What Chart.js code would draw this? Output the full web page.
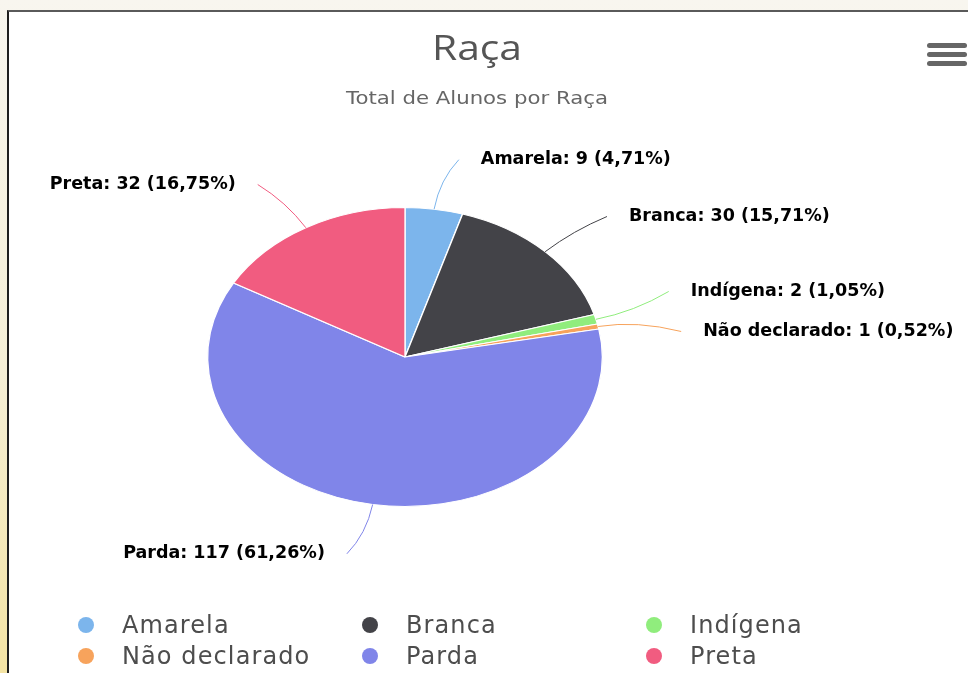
<!DOCTYPE html>
<html lang="pt-BR">
<head>
<meta charset="utf-8">
<title>Raça</title>
<script src="https://cdn.jsdelivr.net/npm/chart.js@4.4.1/dist/chart.umd.min.js"></script>
<style>
    html, body { margin: 0; padding: 0; }
    body {
        width: 968px; height: 673px; overflow: hidden; position: relative;
        background: linear-gradient(180deg, #f8f6ef 0%, #f5efd6 55%, #f4e4a4 100%);
        font-family: 'DejaVu Sans', sans-serif;
    }
    #caixa {
        position: absolute; left: 7px; top: 10px; width: 990px; height: 690px;
        background: #fff; border-left: 2px solid #1e1e1e; border-top: 2px solid #5a5a5a;
    }
    #area { position: absolute; left: 0; top: 0; width: 968px; height: 673px; }
    #titulo {
        position: absolute; left: 0; top: 30px; width: 954px; text-align: center;
        font: 34px 'Open Sans', sans-serif; line-height: 34px; color: #555;
        transform: scaleX(1.2);
    }
    #subtitulo {
        position: absolute; left: 0; top: 90px; width: 954px; text-align: center;
        font: 17px 'DejaVu Sans', sans-serif; line-height: 17px; color: #666;
        transform: scaleX(1.25);
    }
    #menu { position: absolute; left: 927px; top: 43px; width: 40px; }
    #menu div { height: 5px; background: #666; border-radius: 3px; margin-bottom: 4px; }
    #legenda {
        position: absolute; left: 78px; top: 613px;
        display: grid; grid-template-columns: repeat(3, 284px); row-gap: 7px;
    }
    .item {
        display: flex; align-items: center; height: 24px;
        font: 24px 'DejaVu Sans', sans-serif; line-height: 24px; color: #4d4d4d;
        letter-spacing: 1.1px;
    }
    .bola { width: 16px; height: 16px; border-radius: 50%; margin-right: 28px; }
</style>
</head>
<body>
<div id="caixa"></div>
<div id="area"><canvas id="graficoPizza"></canvas></div>
<div id="titulo">Raça</div>
<div id="subtitulo">Total de Alunos por Raça</div>
<div id="menu"><div></div><div></div><div></div></div>
<div id="legenda"></div>
<script>
// Dados do gráfico
const categorias = ['Amarela', 'Branca', 'Indígena', 'Não declarado', 'Parda', 'Preta'];
const totais = [9, 30, 2, 1, 117, 32];
const cores = ['#7cb5ec', '#434348', '#90ed7d', '#f7a35c', '#8085e9', '#f15c80'];

const ESTICAR = 1.32   // a imagem original é mais larga que alta
const DIST = 50        // distância dos rótulos até a borda
const ESPACO = 40      // espaço mínimo entre rótulos do mesmo lado

function porcentagem(valor) {
    var soma = totais.reduce((a, b) => a + b, 0)
    return (valor / soma * 100).toFixed(2).replace('.', ',')
}

// Estica a pizza na horizontal
const esticarPizza = {
    id: 'esticarPizza',
    beforeDatasetsDraw(chart) {
        const arco = chart.getDatasetMeta(0).data[0];
        const ctx = chart.ctx;
        ctx.save();
        ctx.translate(arco.x, 0);
        ctx.scale(ESTICAR, 1);
        ctx.translate(-arco.x, 0);
    },
    afterDatasetsDraw(chart) {
        chart.ctx.restore();
    }
};

// Rótulos com linha de ligação
const rotulos = {
    id: 'rotulos',
    afterDraw(chart) {
        const ctx = chart.ctx;
        const arcos = chart.getDatasetMeta(0).data;
        const lista = arcos.map((arco, i) => {
            const meio = (arco.startAngle + arco.endAngle) / 2;
            const r = arco.outerRadius;
            return {
                i: i, meio: meio, r: r, cx: arco.x, cy: arco.y,
                direita: Math.cos(meio) >= 0,
                y: arco.y + (r + DIST) * Math.sin(meio)
            };
        });

        // afasta os rótulos que ficam muito próximos
        [true, false].forEach(lado => {
            const grupo = lista.filter(l => l.direita === lado).sort((a, b) => a.y - b.y);
            for (let k = 0; k < 20; k++) {
                for (let j = 1; j < grupo.length; j++) {
                    const falta = ESPACO - (grupo[j].y - grupo[j - 1].y);
                    if (falta > 0) {
                        grupo[j - 1].y -= falta / 2;
                        grupo[j].y += falta / 2;
                    }
                }
            }
        });

        ctx.save();
        ctx.font = 'bold 17.5px "DejaVu Sans"';
        ctx.textBaseline = 'middle';
        lista.forEach(l => {
            const R = l.r + DIST;
            const sinal = l.direita ? 1 : -1;
            const dy = Math.max(-1, Math.min(1, (l.y - l.cy) / R));
            const s = Math.sqrt(1 - dy * dy);
            const fimX = l.cx + sinal * (ESTICAR * R * s + 15);
            const bordaX = l.cx + ESTICAR * l.r * Math.cos(l.meio);
            const bordaY = l.cy + l.r * Math.sin(l.meio);
            const ctrlX = l.cx + ESTICAR * (l.r + DIST * 0.6) * Math.cos(l.meio);
            const ctrlY = l.cy + (l.r + DIST * 0.6) * Math.sin(l.meio);

            ctx.strokeStyle = cores[l.i];
            ctx.lineWidth = 1;
            ctx.beginPath();
            ctx.moveTo(bordaX, bordaY);
            ctx.quadraticCurveTo(ctrlX, ctrlY, fimX, l.y);
            ctx.stroke();

            const texto = `${categorias[l.i]}: ${totais[l.i]} (${porcentagem(totais[l.i])}%)`;
            const tx = fimX + sinal * 22;
            ctx.textAlign = l.direita ? 'left' : 'right';
            ctx.lineWidth = 3;
            ctx.lineJoin = 'round';
            ctx.strokeStyle = '#fff';
            ctx.strokeText(texto, tx, l.y);
            ctx.fillStyle = '#000';
            ctx.fillText(texto, tx, l.y);
        });
        ctx.restore();
    }
};

const ctxPizza = document.getElementById('graficoPizza').getContext('2d');
const graficoPizza = new Chart(ctxPizza, {
    type: 'pie',
    data: {
        labels: categorias,
        datasets: [{
            data: totais,
            backgroundColor: cores,
            borderColor: '#fff',
            borderWidth: 1
        }]
    },
    options: {
        responsive: true,
        maintainAspectRatio: false,
        animation: false,
        layout: { padding: { left: 9, right: 167, top: 207, bottom: 166 } },
        plugins: {
            legend: { display: false },
            title: { display: false },
            tooltip: { enabled: false }
        },
        events: []
    },
    plugins: [esticarPizza, rotulos]
});

// Legenda em HTML, montada a partir dos dados
categorias.forEach((nome, i) => {
    legenda.innerHTML += `<div class="item"><span class="bola" style="background:${cores[i]}"></span>${nome}</div>`
});
</script>
</body>
</html>
